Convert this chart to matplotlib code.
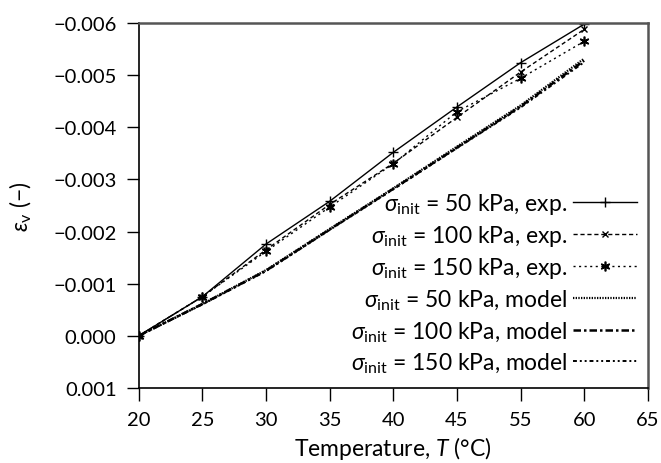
import matplotlib
matplotlib.use("Agg")
import matplotlib.pyplot as plt
import numpy as np

# -- Data ---------------------------------------------------------------------
TICK_LABELS = ["20", "25", "30", "35", "40", "45", "55", "60", "65"]
TEMPS = ["20", "25", "30", "35", "40", "45", "55", "60"]

EXP_50 = [0.0, -0.00075, -0.00176, -0.00258, -0.00352, -0.00439, -0.00524, -0.00598]
EXP_100 = [0.0, -0.00075, -0.00165, -0.00252, -0.00331, -0.00419, -0.00506, -0.00588]
EXP_150 = [0.0, -0.00075, -0.00162, -0.00247, -0.00330, -0.00430, -0.00494, -0.00565]

MODEL_50 = [0.0, -0.00061, -0.00126, -0.00205, -0.00283, -0.00363, -0.00442, -0.00532]
MODEL_100 = [0.0, -0.00061, -0.00125, -0.00204, -0.00282, -0.00361, -0.00440, -0.00528]
MODEL_150 = [0.0, -0.00060, -0.00124, -0.00203, -0.00281, -0.00360, -0.00438, -0.00525]

FONT = "Lato"
plt.rcParams["font.family"] = [FONT, "DejaVu Sans"]
plt.rcParams["mathtext.fontset"] = "custom"
plt.rcParams["mathtext.rm"] = FONT
plt.rcParams["mathtext.it"] = FONT + ":italic"
plt.rcParams["font.size"] = 16.5


def label(stress, kind):
    return r"$\mathit{\sigma}_\mathrm{init}$ = " + f"{stress} kPa, {kind}"


fig = plt.figure(figsize=(6.61, 4.64), dpi=100)
ax = fig.add_axes([0.210, 0.162, 0.770, 0.786])

x = np.arange(len(TEMPS))

ax.plot(x, EXP_50, color="black", lw=1.0, ls="-", marker="+", ms=7, mew=1.0,
        label=label(50, "exp."))
ax.plot(x, EXP_100, color="black", lw=1.0, ls=(0, (3, 2)), marker="x", ms=5, mew=1.0,
        label=label(100, "exp."))
ax.plot(x, EXP_150, color="black", lw=1.0, ls=(0, (1.5, 2.5)), marker=(6, 2, 0), ms=7, mew=1.2,
        label=label(150, "exp."))
ax.plot(x, MODEL_50, color="black", lw=1.6, ls=(0, (0.6, 0.6)),
        label=label(50, "model"))
ax.plot(x, MODEL_100, color="black", lw=1.8, ls=(0, (3, 1.2, 1, 1.2)),
        label=label(100, "model"))
ax.plot(x, MODEL_150, color="black", lw=1.4, ls=(0, (2, 1.5, 1, 1.5, 1, 1.5)),
        label=label(150, "model"))

ax.set_xlim(0, len(TICK_LABELS) - 1)
ax.set_xticks(np.arange(len(TICK_LABELS)))
ax.set_xticklabels(TICK_LABELS)
ax.set_ylim(0.001, -0.006)
yt = np.arange(-0.006, 0.0011, 0.001)
ax.set_yticks(yt)
ax.set_yticklabels([f"{v:.3f}".replace("-", "\u2212") if abs(v) > 1e-9 else "0.000" for v in yt])

ax.tick_params(direction="out", length=9, width=1.0, colors="black", labelsize=14.5)
ax.tick_params(axis="x", pad=8)
ax.tick_params(axis="y", pad=7)
for side in ["left", "bottom"]:
    ax.spines[side].set_color("black")
    ax.spines[side].set_linewidth(1.2)
for side in ["top", "right"]:
    ax.spines[side].set_color("#555555")
    ax.spines[side].set_linewidth(1.8)

ax.set_xlabel(r"Temperature, $\mathit{T}$ (°C)", labelpad=4)
ax.set_ylabel(r"$\mathit{\varepsilon}_\mathrm{v}$ (−)", labelpad=14)

ax.legend(loc="lower right", bbox_to_anchor=(0.979, 0.035), frameon=False,
          markerfirst=False, handlelength=2.8, labelspacing=0.32, handletextpad=0.25,
          borderaxespad=0, borderpad=0, fontsize=16.5)

fig.savefig("out.png", dpi=100)
